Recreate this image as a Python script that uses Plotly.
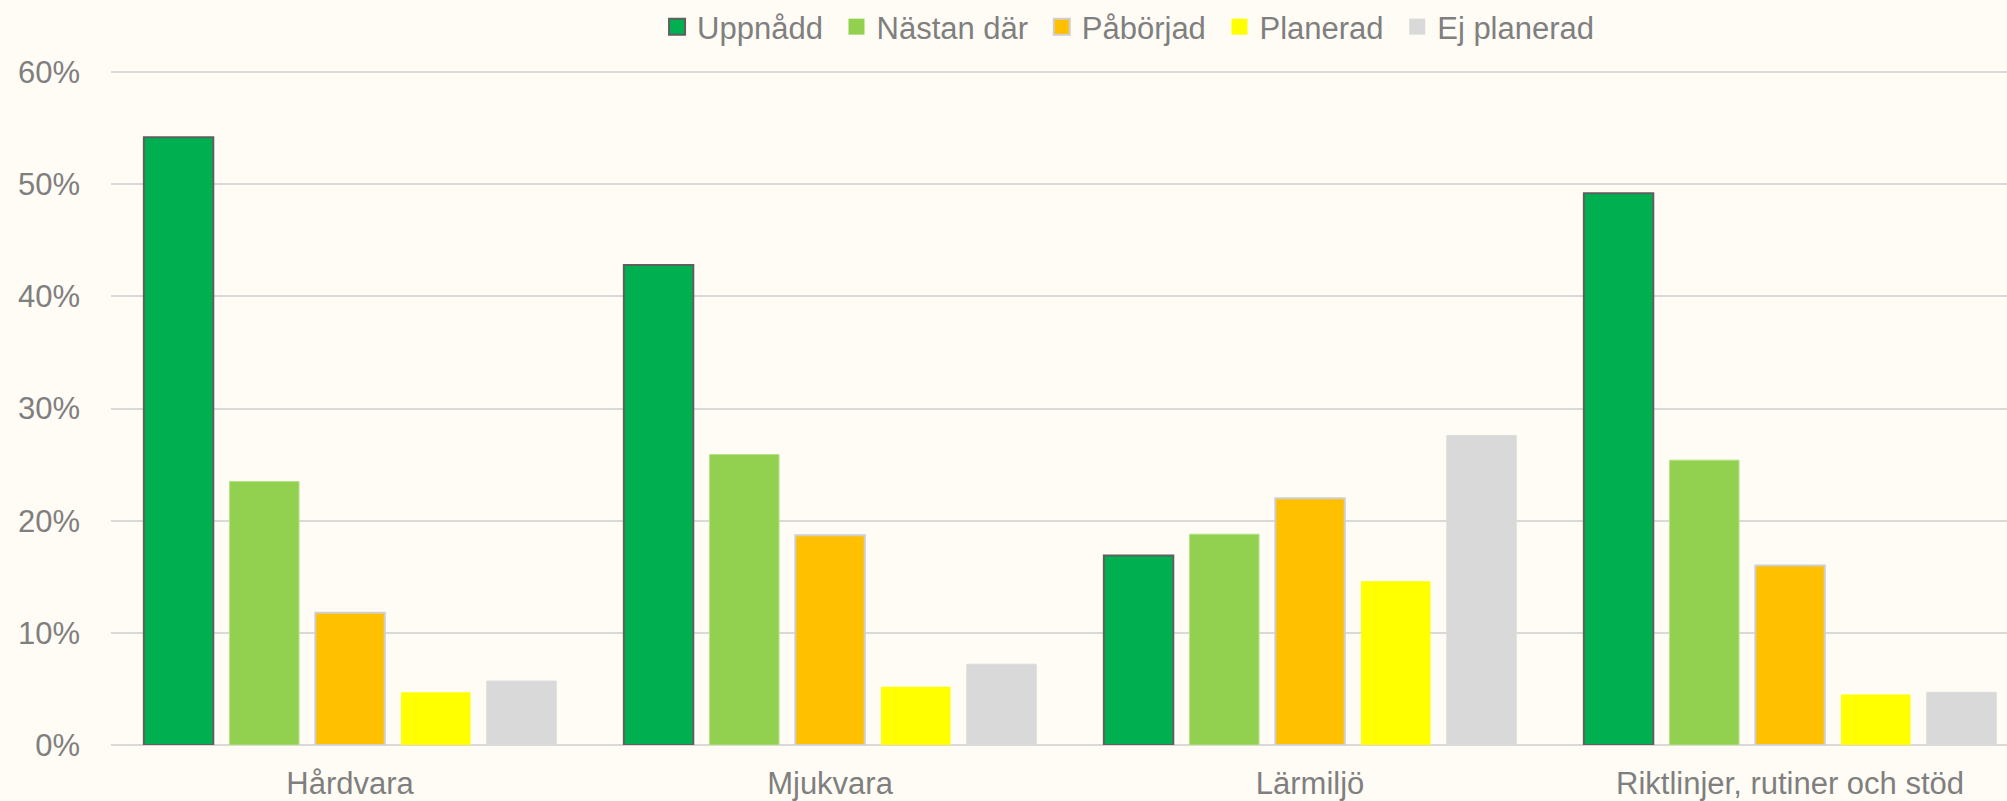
import plotly.graph_objects as go

categories = ["Hårdvara", "Mjukvara", "Lärmiljö", "Riktlinjer, rutiner och stöd"]
series_names = ["Uppnådd", "Nästan där", "Påbörjad", "Planerad", "Ej planerad"]

uppnadd = [0.542, 0.428, 0.169, 0.492]
nastan_dar = [0.235, 0.259, 0.188, 0.254]
paborjad = [0.118, 0.187, 0.220, 0.160]
planerad = [0.047, 0.052, 0.146, 0.045]
ej_planerad = [0.057, 0.072, 0.276, 0.047]

series_values = [uppnadd, nastan_dar, paborjad, planerad, ej_planerad]

colors = ["#00B050", "#92D050", "#FFC000", "#FFFF00", "#D9D9D9"]
edge_colors = ["#5f5f5f", "#b8e08a", "#d0cece", "#FFFF00", "#dcdcdc"]
edge_widths = [2, 1, 2, 0, 1]

bg = "#FFFCF5"
txt = "#7f7f7f"
font_family = "Liberation Sans, Arial, sans-serif"

fig = go.Figure()

for name, vals, col, ec, ew in zip(series_names, series_values, colors, edge_colors, edge_widths):
    fig.add_trace(go.Bar(
        x=categories, y=vals, name=name,
        marker=dict(color=col, line=dict(color=ec, width=ew)),
        showlegend=False,
    ))

# legend entries with larger square symbols (nbsp pads the gap between entries)
for i, (name, col, ec, ew) in enumerate(zip(series_names, colors, edge_colors, edge_widths)):
    label = name if i == len(series_names) - 1 else name + "\u00a0"
    fig.add_trace(go.Scatter(
        x=[None], y=[None], mode="markers", name=label,
        marker=dict(symbol="square", size=16, color=col,
                    line=dict(color=ec if ew else col, width=2 if ew > 1 else 0)),
    ))

fig.update_layout(
    width=2007, height=801,
    paper_bgcolor=bg, plot_bgcolor=bg,
    margin=dict(l=111, r=0, t=67, b=56),
    barmode="group", bargap=0.107, bargroupgap=0.19,
    font=dict(family=font_family, size=31, color=txt),
    legend=dict(orientation="h", x=0.288, xanchor="left", y=1.066, yanchor="middle",
                font=dict(size=31, color=txt), bgcolor="rgba(0,0,0,0)",
                itemsizing="trace"),
)

fig.update_xaxes(
    type="category", range=[-0.498, 3.452],
    showgrid=False, showline=False, zeroline=False,
    ticks="", ticklabelstandoff=17,
)
# upper bound a hair above 60% so the top gridline is drawn
fig.update_yaxes(
    range=[0, 0.601], tick0=0, dtick=0.1, tickformat=".0%",
    showgrid=True, gridcolor="#D9D9D9", gridwidth=2,
    zeroline=True, zerolinecolor="#D9D9D9", zerolinewidth=2,
    showline=False, ticks="", ticklabelstandoff=30,
)

fig.write_html("out.html", config={"displayModeBar": False},
               post_script="document.body.style.margin='0';document.body.style.overflow='hidden';")
